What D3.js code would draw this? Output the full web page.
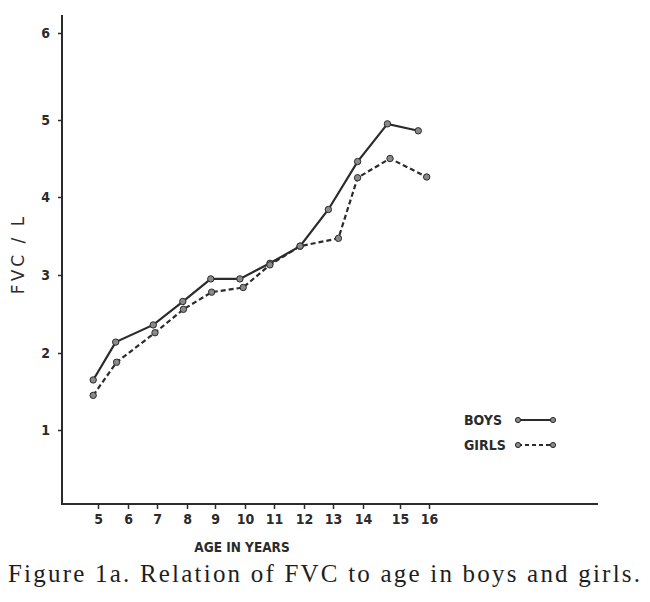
<!DOCTYPE html>
<html>
<head>
<meta charset="utf-8">
<script src="https://cdn.jsdelivr.net/npm/d3@7"></script>
<style>
  body { margin: 0; background: #fff; }
  svg { display: block; }
  .tick text { font-family: "DejaVu Sans Condensed", "Liberation Sans Narrow", sans-serif; font-weight: bold; fill: #2b2b2b; }
</style>
</head>
<body>
<svg id="chart" width="650" height="602"></svg>
<script>
// ages (points sit slightly left of the tick marks)
const ageTicks = [5, 6, 7, 8, 9, 10, 11, 12, 13, 14, 15, 16];
const fvcTicks = [1, 2, 3, 4, 5, 6];

const boysAge = [4.84, 5.59, 6.87, 7.86, 8.85, 9.83, 10.86, 11.87, 12.84, 13.82, 14.66, 15.63];
const boysFvc = [1.65, 2.14, 2.36, 2.66, 2.95, 2.95, 3.15, 3.37, 3.84, 4.46, 4.95, 4.86];

const girlsAge = [4.84, 5.62, 6.93, 7.88, 8.88, 9.94, 10.86, 11.87, 13.18, 13.82, 14.73, 15.92];
const girlsFvc = [1.45, 1.88, 2.26, 2.56, 2.78, 2.84, 3.13, 3.37, 3.47, 4.25, 4.50, 4.26];

const svg = d3.select("#chart"),
  ink = "#2b2b2b",
  dotFill = "#8a8a8a",
  axisX = 62,
  axisY = 504;

// hand drawn axes: tick spacing is not even, so piecewise scales
const x = d3.scaleLinear()
  .domain(ageTicks)
  .range([98, 128, 157, 187, 215, 245, 274, 304, 333, 363, 400, 429]);

const y = d3.scaleLinear()
  .domain([0, 1, 2, 3, 4, 5, 6])
  .range([506, 430, 353, 275, 197, 120, 33]);

// axis lines
svg.append("line")
  .attr("x1", axisX).attr("x2", axisX)
  .attr("y1", 15).attr("y2", axisY)
  .attr("stroke", ink).attr("stroke-width", 2);

svg.append("line")
  .attr("x1", axisX - 1).attr("x2", 598)
  .attr("y1", axisY).attr("y2", axisY)
  .attr("stroke", ink).attr("stroke-width", 2);

const gx = svg.append("g")
  .attr("transform", "translate(0," + axisY + ")")
  .call(d3.axisBottom(x).tickValues(ageTicks).tickSize(5).tickPadding(5).tickFormat(d3.format("d")));
gx.select(".domain").remove();
gx.selectAll(".tick line").attr("stroke", ink).attr("stroke-width", 1.5);
gx.selectAll(".tick text").attr("font-size", 14);

const gy = svg.append("g")
  .attr("transform", "translate(" + axisX + ",0)")
  .call(d3.axisLeft(y).tickValues(fvcTicks).tickSize(4).tickPadding(8).tickFormat(d3.format("d")));
gy.select(".domain").remove();
gy.selectAll(".tick line").attr("stroke", ink).attr("stroke-width", 1.5);
gy.selectAll(".tick text").attr("font-size", 14);

// axis titles
svg.append("text")
  .attr("transform", "translate(24,254) rotate(-90)")
  .attr("text-anchor", "middle")
  .attr("font-family", "DejaVu Sans, sans-serif")
  .attr("font-size", 17)
  .attr("letter-spacing", 3)
  .attr("fill", ink)
  .text("FVC / L");

svg.append("text")
  .attr("x", 242).attr("y", 552)
  .attr("text-anchor", "middle")
  .attr("font-family", "DejaVu Sans Condensed, sans-serif")
  .attr("font-weight", "bold")
  .attr("font-size", 13.5)
  .attr("fill", ink)
  .text("AGE IN YEARS");

// series
const boys = boysAge.map((a, i) => ({age: a, fvc: boysFvc[i]}));
const girls = girlsAge.map((a, i) => ({age: a, fvc: girlsFvc[i]}));

const line = d3.line()
  .x(function (d) { return x(d.age); })
  .y(function (d) { return y(d.fvc); });

svg.append("path")
  .datum(girls)
  .attr("d", line)
  .attr("fill", "none")
  .attr("stroke", ink)
  .attr("stroke-width", 2.2)
  .attr("stroke-dasharray", "5,3");

svg.append("path")
  .datum(boys)
  .attr("d", line)
  .attr("fill", "none")
  .attr("stroke", ink)
  .attr("stroke-width", 2.2);

[boys, girls].forEach(function (series) {
  svg.append("g").selectAll("circle")
    .data(series)
    .enter().append("circle")
    .attr("cx", function (d) { return x(d.age); })
    .attr("cy", function (d) { return y(d.fvc); })
    .attr("r", 3.2)
    .attr("fill", dotFill)
    .attr("stroke", ink)
    .attr("stroke-width", 1);
});

// legend
const legend = [
  {label: "BOYS", dash: null, y: 420},
  {label: "GIRLS", dash: "4,3", y: 445},
];
legend.forEach(function (l) {
  svg.append("text")
    .attr("x", 464).attr("y", l.y + 5)
    .attr("font-family", "DejaVu Sans Condensed, sans-serif")
    .attr("font-weight", "bold")
    .attr("font-size", 14)
    .attr("fill", ink)
    .text(l.label);
  svg.append("line")
    .attr("x1", 518).attr("x2", 553)
    .attr("y1", l.y).attr("y2", l.y)
    .attr("stroke", ink).attr("stroke-width", 2)
    .attr("stroke-dasharray", l.dash);
  [518, 553].forEach(function (cx) {
    svg.append("circle")
      .attr("cx", cx).attr("cy", l.y).attr("r", 2.6)
      .attr("fill", dotFill).attr("stroke", ink).attr("stroke-width", 1);
  });
});

// caption
svg.append("text")
  .attr("x", 8).attr("y", 582)
  .attr("font-family", "Liberation Serif, serif")
  .attr("font-size", 25)
  .attr("fill", "#1e1e1e")
  .attr("textLength", 632)
  .attr("lengthAdjust", "spacing")
  .text("Figure 1a. Relation of FVC to age in boys and girls.");
</script>
</body>
</html>
